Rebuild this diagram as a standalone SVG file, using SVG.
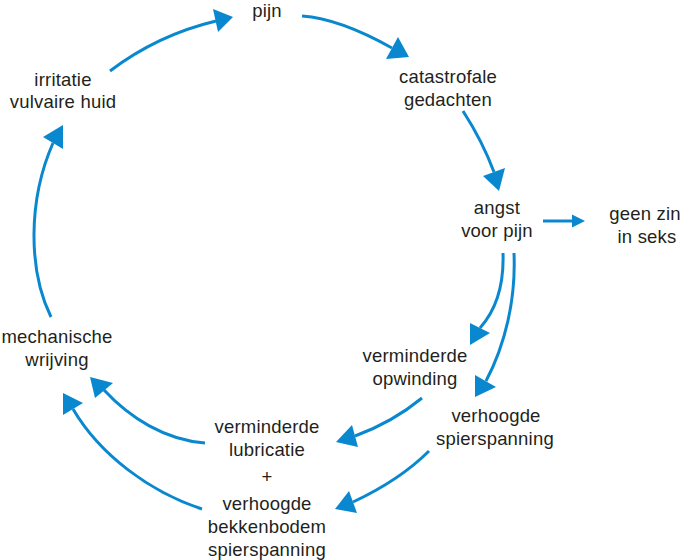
<svg xmlns="http://www.w3.org/2000/svg" width="685" height="560" viewBox="0 0 685 560">
<style>
  .lbl { font-family: "Liberation Sans", Arial, Helvetica, sans-serif; font-size: 18.5px; fill: #231f20; text-anchor: middle; letter-spacing: 0.2px; }
  .ln { fill: none; stroke: #0a88cf; stroke-width: 3; stroke-linecap: butt; }
  .hd { fill: #0a88cf; stroke: none; }
</style>
<rect width="685" height="560" fill="#ffffff"/>
<g id="connectors">
  <path class="ln" d="M110,71 C135,52 170,32 216,21"/>
  <polygon class="hd" points="213,9 218,32 233,17"/>
  <path class="ln" d="M302,16 C330,18 360,30 392,48"/>
  <polygon class="hd" points="386,59 398,37 409,57"/>
  <path class="ln" d="M463,111 C472,125 485,148 494,172"/>
  <polygon class="hd" points="483,176 505,168 499,191"/>
  <path class="ln" d="M543,221 L574,221"/>
  <polygon class="hd" points="572,214.5 585,221 572,227.5"/>
  <path class="ln" d="M503,253 C504,282 498,308 480,328"/>
  <polygon class="hd" points="470,323 490,333 470,345"/>
  <path class="ln" d="M514,253 C516,300 505,345 486,381"/>
  <polygon class="hd" points="475,375 496,387 475,397"/>
  <path class="ln" d="M422,398 C405,412 385,425 355,436"/>
  <polygon class="hd" points="352,425 358,447 336,442"/>
  <path class="ln" d="M429,451 C410,470 385,487 353,502"/>
  <polygon class="hd" points="349,491 357,513 335,509"/>
  <path class="ln" d="M205,443 C165,440 130,418 104,390"/>
  <polygon class="hd" points="90,377 113,383 95,398"/>
  <path class="ln" d="M202,509 C150,492 100,455 73,409"/>
  <polygon class="hd" points="63,393 83,403 63,415"/>
  <path class="ln" d="M51,317 C28,270 28,200 53,143"/>
  <polygon class="hd" points="63,125 43,137 63,149"/>
</g>
<g id="node-pijn"><text class="lbl" x="267" y="17">pijn</text></g>
<g id="node-catastrofale"><text class="lbl" x="448" y="83">catastrofale</text><text class="lbl" x="448" y="106">gedachten</text></g>
<g id="node-angst"><text class="lbl" x="497" y="214">angst</text><text class="lbl" x="497" y="237">voor pijn</text></g>
<g id="node-geenzin"><text class="lbl" x="645" y="220">geen zin</text><text class="lbl" x="647" y="243">in seks</text></g>
<g id="node-opwinding"><text class="lbl" x="415" y="362">verminderde</text><text class="lbl" x="415" y="385">opwinding</text></g>
<g id="node-spierspanning"><text class="lbl" x="496" y="422">verhoogde</text><text class="lbl" x="495" y="445">spierspanning</text></g>
<g id="node-lubricatie"><text class="lbl" x="267" y="433">verminderde</text><text class="lbl" x="267" y="456">lubricatie</text><text class="lbl" x="267" y="483">+</text><text class="lbl" x="267" y="510">verhoogde</text><text class="lbl" x="267" y="533">bekkenbodem</text><text class="lbl" x="267" y="556">spierspanning</text></g>
<g id="node-mechanische"><text class="lbl" x="57" y="343">mechanische</text><text class="lbl" x="57" y="366">wrijving</text></g>
<g id="node-irritatie"><text class="lbl" x="63" y="86">irritatie</text><text class="lbl" x="63" y="108">vulvaire huid</text></g>
</svg>
